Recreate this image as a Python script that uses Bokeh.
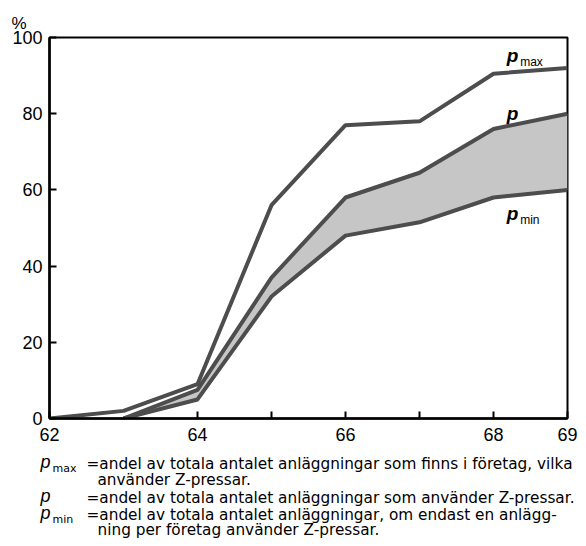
from bokeh.plotting import figure
from bokeh.models import Label, FixedTicker, Range1d, Title
from bokeh.layouts import column
from bokeh.embed import file_html
from bokeh.resources import INLINE

# ---- data ----
years = [62, 63, 64, 65, 66, 67, 68, 69]
p_max = [0, 2, 9, 56, 77, 78, 90.5, 92]
years_band = [63, 64, 65, 66, 67, 68, 69]
p_mid = [0, 7.5, 37, 58, 64.5, 76, 80]
p_min = [0, 5, 32, 48, 51.5, 58, 60]
x_ticks = [62, 64, 65, 66, 67, 68, 69]
x_tick_labels = {62: "62", 64: "64", 65: "", 66: "66", 67: "", 68: "68", 69: "69"}
y_ticks = [0, 20, 40, 60, 80, 100]

legend_lines = [
    "=andel av totala antalet anläggningar som finns i företag, vilka",
    "använder Z-pressar.",
    "=andel av totala antalet anläggningar som använder Z-pressar.",
    "=andel av totala antalet anläggningar, om endast en anlägg-",
    "ning per företag använder Z-pressar.",
]

FONT = "Liberation Sans"
LFONT = "DejaVu Sans"
LINE = "#4d4d4d"
W = 578
H_MAIN = 448
H_LEG = 90
FRAME_R = 567

p = figure(width=W, height=H_MAIN, output_backend="svg", toolbar_location=None,
           x_range=Range1d(62, 69), y_range=Range1d(0, 100),
           min_border_left=49, min_border_right=W - FRAME_R, min_border_top=37,
           min_border_bottom=H_MAIN - 418)
p.frame_align = False
p.xgrid.visible = False
p.ygrid.visible = False
p.outline_line_color = "black"
p.outline_line_width = 2
p.outline_line_alpha = 1

# "%" above the y axis, as a left-aligned title
p.title = Title(text="%", align="left", offset=-38, text_font=FONT,
                text_font_size="17px", text_font_style="normal",
                text_color="black", standoff=9)

# band between p_min and p
p.varea(x=years_band, y1=p_min, y2=p_mid, fill_color="#c6c6c6", fill_alpha=1)
p.line(years_band, p_min, line_color=LINE, line_width=4)
p.line(years_band, p_mid, line_color=LINE, line_width=4)
p.line(years, p_max, line_color=LINE, line_width=4)

# axes
for ax in (p.xaxis, p.yaxis):
    ax.axis_line_color = "black"
    ax.axis_line_width = 2.5
    ax.major_tick_line_color = "black"
    ax.major_tick_line_width = 2
    ax.major_tick_in = 7
    ax.major_tick_out = 0
    ax.minor_tick_line_color = None
    ax.major_label_text_font = FONT
    ax.major_label_text_font_size = "18px"
    ax.major_label_text_color = "black"

p.xaxis.ticker = FixedTicker(ticks=x_ticks)
p.xaxis.major_label_overrides = x_tick_labels
p.xaxis.major_label_standoff = 9
p.yaxis.ticker = FixedTicker(ticks=y_ticks)
p.yaxis.major_label_standoff = 7

def dlab(x, y, text, size, style="normal"):
    p.add_layout(Label(x=x, y=y, text=text, text_font=FONT, text_font_size=size,
                       text_font_style=style, text_align="left",
                       text_baseline="middle", text_color="black"))

# curve labels (data coordinates)
dlab(68.18, 95.3, "p", "19px", "bold italic")
dlab(68.36, 93.6, "max", "12px")
dlab(68.18, 80.1, "p", "19px", "bold italic")
dlab(68.18, 53.8, "p", "19px", "bold italic")
dlab(68.36, 52.0, "min", "12px")

# legend figure below (frame fills the whole canvas, no axes)
leg = figure(width=W, height=H_LEG, output_backend="svg", toolbar_location=None,
             x_range=Range1d(0, W), y_range=Range1d(0, H_LEG),
             x_axis_type=None, y_axis_type=None,
             min_border=0, min_border_left=0, min_border_right=0,
             min_border_top=0, min_border_bottom=0, outline_line_color=None)
leg.frame_align = False
leg.xgrid.visible = False
leg.ygrid.visible = False
LB = H_MAIN + H_LEG  # page y of legend figure bottom

def llab(x, y, text, size, style="normal", font=LFONT):
    leg.add_layout(Label(x=x, y=LB - y, x_units="screen", y_units="screen",
                         text=text, text_font=font, text_font_size=size,
                         text_font_style=style, text_align="left",
                         text_baseline="middle", text_color="black"))

llab(40, 461, "p", "18px", "italic", FONT)
llab(52, 468, "max", "11px")
llab(40, 495, "p", "18px", "italic", FONT)
llab(40, 512, "p", "18px", "italic", FONT)
llab(52, 519, "min", "11px")
ys = [463, 479, 497, 514, 529]
xs = [86, 97, 86, 86, 97]
for t, x, y in zip(legend_lines, xs, ys):
    llab(x, y, t, "15.3px")

layout = column(p, leg, spacing=0)
open("out.html", "w").write(file_html(layout, INLINE))
